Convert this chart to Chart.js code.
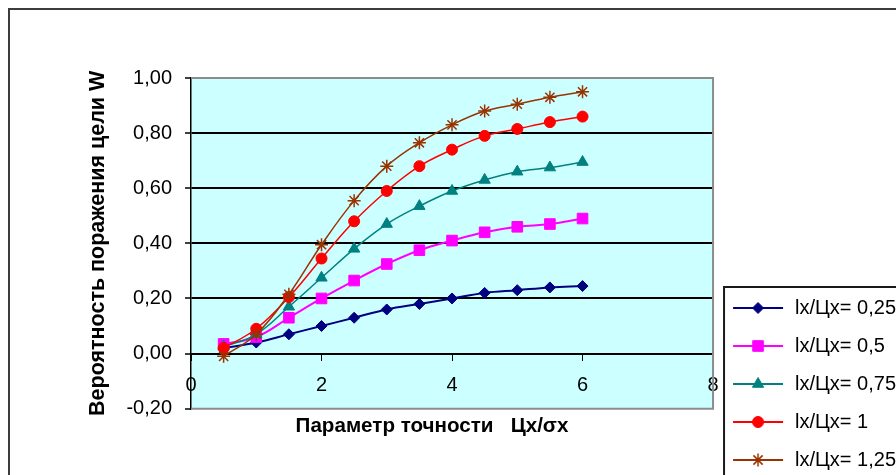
<!DOCTYPE html>
<html><head><meta charset="utf-8">
<script src="https://cdn.jsdelivr.net/npm/chart.js@4.4.1/dist/chart.umd.min.js"></script>
<style>
html,body{margin:0;padding:0;background:#fff;overflow:hidden;width:896px;height:475px}
#wrap{position:relative;width:1000px;height:520px}
#frame{position:absolute;left:8px;top:8px;width:1000px;height:600px;border:2px solid #3c3c3c;pointer-events:none}
canvas{position:absolute;left:0;top:0}
</style></head><body>
<div id="wrap"><canvas id="c" width="1000" height="520"></canvas><div id="frame"></div></div>
<script>
// ---- data ----
const xValues = [0.5, 1, 1.5, 2, 2.5, 3, 3.5, 4, 4.5, 5, 5.5, 6];
const w025 = [0.02, 0.04, 0.07, 0.10, 0.13, 0.16, 0.18, 0.20, 0.22, 0.23, 0.24, 0.245];
const w05  = [0.035, 0.06, 0.13, 0.20, 0.265, 0.325, 0.375, 0.41, 0.44, 0.46, 0.47, 0.49];
const w075 = [0.025, 0.07, 0.17, 0.275, 0.38, 0.47, 0.535, 0.59, 0.63, 0.66, 0.675, 0.695];
const w1   = [0.02, 0.09, 0.205, 0.345, 0.48, 0.59, 0.68, 0.74, 0.79, 0.815, 0.84, 0.86];
const w125 = [-0.01, 0.07, 0.215, 0.395, 0.555, 0.68, 0.765, 0.83, 0.88, 0.905, 0.93, 0.95];
const seriesLabels = ['lx/Цx= 0,25', 'lx/Цx= 0,5', 'lx/Цx= 0,75', 'lx/Цx= 1', 'lx/Цx= 1,25'];
const seriesValues = [w025, w05, w075, w1, w125];
const yTitle = 'Вероятность поражения цели W';
const xTitle = 'Параметр точности   Цх/σх';

// ---- styles / layout ----
const FONT = "'Liberation Sans', Arial, sans-serif";
const LEG_FONT = 20, LEG_PAD = 18, LEG_BOX = 54;
const styles = [
  {color: '#000080', pointStyle: 'rectRot', radius: 5.5, width: 2, pbw: 1},
  {color: '#FF00FF', pointStyle: 'rect', radius: 7.5, width: 2, pbw: 1},
  {color: '#008080', pointStyle: 'triangle', radius: 6.5, width: 1.5, pbw: 1},
  {color: '#FF0000', pointStyle: 'circle', radius: 5.5, width: 1.5, pbw: 1},
  {color: '#993300', pointStyle: 'star', radius: 6.5, width: 1.5, pbw: 1.5}
];
Chart.defaults.font.family = FONT;
Chart.defaults.color = '#000';

// measure legend so its width is known
const mctx = document.createElement('canvas').getContext('2d');
mctx.font = LEG_FONT + 'px ' + FONT;
const maxText = Math.max(...seriesLabels.map(t => mctx.measureText(t).width));
const legendW = Math.ceil(LEG_PAD + LEG_BOX + LEG_FONT / 2 + maxText + 10);
const PLOT_LEFT = 191, PLOT_RIGHT = 713, XTITLE_CENTER = 432, YTITLE_X = 98;
const padLeft = 2 * XTITLE_CENTER - PLOT_RIGHT - legendW;
const canvasW = 1000;
const padRight = canvasW - PLOT_RIGHT - legendW;
const Y_TITLE_SIZE = 21.5;

function legendIcon(s) {
  const c = document.createElement('canvas');
  c.width = LEG_BOX; c.height = 20;
  const g = c.getContext('2d');
  g.strokeStyle = s.color; g.lineWidth = 2;
  g.beginPath(); g.moveTo(2, 10); g.lineTo(LEG_BOX - 2, 10); g.stroke();
  g.fillStyle = s.color; g.strokeStyle = s.color; g.lineWidth = s.pbw;
  Chart.helpers.drawPoint(g, {pointStyle: s.pointStyle, radius: s.radius, borderWidth: s.pbw, rotation: 0}, LEG_BOX / 2, 10);
  return c;
}
const icons = styles.map(legendIcon);

const datasets = seriesValues.map((vals, i) => ({
  label: seriesLabels[i],
  data: xValues.map((x, j) => ({x: x, y: vals[j]})),
  borderColor: styles[i].color,
  backgroundColor: styles[i].color,
  borderWidth: styles[i].width,
  pointStyle: styles[i].pointStyle,
  pointRadius: styles[i].radius,
  pointBackgroundColor: styles[i].color,
  pointBorderColor: styles[i].color,
  pointBorderWidth: styles[i].pbw,
  tension: 0.4,
  fill: false,
  order: seriesValues.length - i
}));

const deco = {
  id: 'deco',
  beforeDraw(chart) {
    const {ctx, chartArea: a} = chart;
    ctx.save();
    ctx.fillStyle = '#CCFFFF';
    ctx.fillRect(a.left, a.top, a.right - a.left, a.bottom - a.top);
    ctx.restore();
  },
  beforeDatasetsDraw(chart) {
    const {ctx, chartArea: a} = chart;
    ctx.save();
    ctx.strokeStyle = '#8c8c8c'; ctx.lineWidth = 2;
    ctx.beginPath();
    ctx.moveTo(a.left, a.top); ctx.lineTo(a.right, a.top);
    ctx.lineTo(a.right, a.bottom); ctx.lineTo(a.left, a.bottom);
    ctx.stroke();
    ctx.restore();
  },
  afterDraw(chart) {
    const lg = chart.legend; const {ctx} = chart;
    const colH = lg.columnSizes && lg.columnSizes[0] ? lg.columnSizes[0].height : 190;
    ctx.save();
    ctx.strokeStyle = '#1a1a1a'; ctx.lineWidth = 2;
    ctx.strokeRect(lg.left + 11, lg.bottom - colH - 11, 400, 400);
    ctx.restore();
  }
};

new Chart(document.getElementById('c'), {
  type: 'line',
  data: {datasets},
  plugins: [deco],
  options: {
    responsive: false,
    animation: false,
    layout: {padding: {left: padLeft, top: 78, right: padRight, bottom: 32}},
    scales: {
      x: {
        type: 'linear', position: {y: 0}, min: 0, max: 8,
        ticks: {stepSize: 2, font: {size: 20}, color: '#000', padding: 14, maxRotation: 0},
        grid: {drawOnChartArea: false, drawTicks: true, tickLength: 6, color: '#000', tickColor: '#000', lineWidth: 1},
        border: {color: '#000', width: 2}
      },
      y: {
        type: 'linear', position: 'left', min: -0.2, max: 1.0,
        ticks: {stepSize: 0.2, font: {size: 20}, color: '#000', padding: 13,
          callback: v => (Math.abs(v) < 1e-9 ? 0 : v).toFixed(2).replace('.', ',')},
        grid: {
          tickLength: 6, tickColor: '#000', lineWidth: 2, tickWidth: 1.5,
          color: ctx => (ctx.tick && (Math.abs(ctx.tick.value - 1) < 1e-6 || Math.abs(ctx.tick.value + 0.2) < 1e-6)) ? 'rgba(0,0,0,0)' : '#000'
        },
        border: {color: '#000', width: 1.5},
        title: {display: true, text: yTitle, font: {size: Y_TITLE_SIZE, weight: 'bold'}, color: '#000',
          padding: {top: YTITLE_X - Y_TITLE_SIZE * 0.6 - padLeft, bottom: 0}},
        afterFit: s => { s.width = PLOT_LEFT - padLeft; }
      }
    },
    plugins: {
      title: {display: true, position: 'bottom', align: 'center', text: xTitle,
        font: {size: 20.6, weight: 'bold'}, color: '#000', padding: {top: 5.6, bottom: 49}},
      legend: {
        position: 'right', align: 'end', maxWidth: legendW,
        labels: {
          usePointStyle: true, pointStyleWidth: LEG_BOX, padding: LEG_PAD, font: {size: LEG_FONT}, color: '#000',
          generateLabels: chart => chart.data.datasets.map((ds, i) => ({
            text: ds.label, pointStyle: icons[i], fillStyle: ds.borderColor, strokeStyle: ds.borderColor,
            lineWidth: 0, hidden: false, datasetIndex: i
          }))
        }
      },
      tooltip: {enabled: false}
    }
  }
});
</script></body></html>
